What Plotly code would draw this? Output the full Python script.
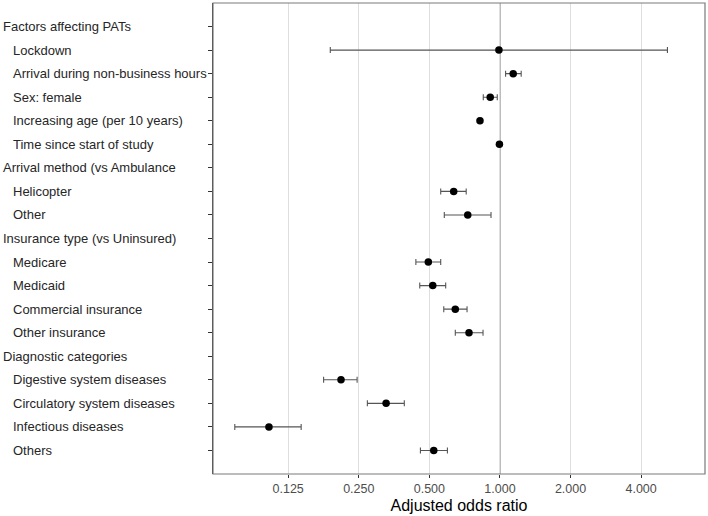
import plotly.graph_objects as go

labels = [
    "Factors affecting PATs", "Lockdown", "Arrival during non-business hours",
    "Sex: female", "Increasing age (per 10 years)", "Time since start of study",
    "Arrival method (vs Ambulance", "Helicopter", "Other",
    "Insurance type (vs Uninsured)", "Medicare", "Medicaid",
    "Commercial insurance", "Other insurance", "Diagnostic categories",
    "Digestive system diseases", "Circulatory system diseases",
    "Infectious diseases", "Others",
]
indent = [0, 1, 1, 1, 1, 1, 0, 1, 1, 0, 1, 1, 1, 1, 0, 1, 1, 1, 1]
aor = [None, 0.99, 1.139, 0.909, 0.822, 0.995, None, 0.635, 0.729, None,
       0.495, 0.517, 0.645, 0.738, None, 0.210, 0.327, 0.1035, 0.522]
ci_low = [None, 0.189, 1.057, 0.849, 0.812, 0.990, None, 0.559, 0.579, None,
          0.438, 0.455, 0.576, 0.645, None, 0.177, 0.272, 0.074, 0.458]
ci_high = [None, 5.18, 1.232, 0.974, 0.832, 1.000, None, 0.718, 0.916, None,
           0.559, 0.587, 0.724, 0.847, None, 0.246, 0.391, 0.142, 0.597]
x_ticks = [0.125, 0.25, 0.5, 1.0, 2.0, 4.0]
x_tick_text = ["0.125", "0.250", "0.500", "1.000", "2.000", "4.000"]

n = len(labels)
ypos = [n - i for i in range(n)]

err_plus = [None if a is None else h - a for a, h in zip(aor, ci_high)]
err_minus = [None if a is None else a - l for a, l in zip(aor, ci_low)]

fig = go.Figure()
fig.add_trace(go.Scatter(
    x=aor, y=ypos, mode="markers",
    marker=dict(color="black", size=7.5),
    error_x=dict(type="data", symmetric=False, array=err_plus, arrayminus=err_minus,
                 color="#555555", thickness=1.1, width=3),
    showlegend=False, hoverinfo="skip",
))

fig.add_shape(type="line", xref="x", yref="paper", x0=1, x1=1, y0=0, y1=1,
              line=dict(color="#a6a6a6", width=1.6), layer="below")
fig.add_shape(type="rect", xref="paper", yref="paper", x0=0, x1=1, y0=0, y1=1,
              line=dict(color="#7a7a7a", width=1.2), layer="above")

L, R, T, B = 212.5, 2.5, 3, 42
W, H = 708, 516
pw = W - L - R
for lab, lev, y in zip(labels, indent, ypos):
    px = 0 if lev == 0 else 10
    fig.add_annotation(x=(px - L) / pw, xref="paper", y=y, yref="y",
                       text=lab, showarrow=False, xanchor="left", yanchor="middle",
                       font=dict(family="Liberation Sans, Arial, sans-serif", size=13, color="#262626"))

fig.update_layout(
    width=W, height=H,
    margin=dict(l=L, r=R, t=T, b=B, autoexpand=False),
    plot_bgcolor="white", paper_bgcolor="white",
    font=dict(family="Liberation Sans, Arial, sans-serif"),
    xaxis=dict(
        type="log", range=[-1.2237, 0.8745],
        tickvals=x_ticks, ticktext=x_tick_text,
        showgrid=True, gridcolor="#dedede", gridwidth=1,
        ticks="outside", ticklen=3, tickcolor="#333333", tickwidth=1,
        tickfont=dict(size=12.5, color="#4d4d4d"),
        showline=False, zeroline=False,
        title=dict(text="Adjusted odds ratio", font=dict(size=16, color="black"), standoff=4),
    ),
    yaxis=dict(
        range=[0, n + 1], tickvals=ypos, showticklabels=False,
        ticks="outside", ticklen=4, tickcolor="#333333", tickwidth=1.2,
        showgrid=False, zeroline=False,
        showline=True, linecolor="#333333", linewidth=1.2,
    ),
)

fig.write_html(
    "out.html",
    config={"displayModeBar": False},
    post_script="document.body.style.margin='0';document.body.style.padding='0';document.body.style.overflow='hidden';",
)
